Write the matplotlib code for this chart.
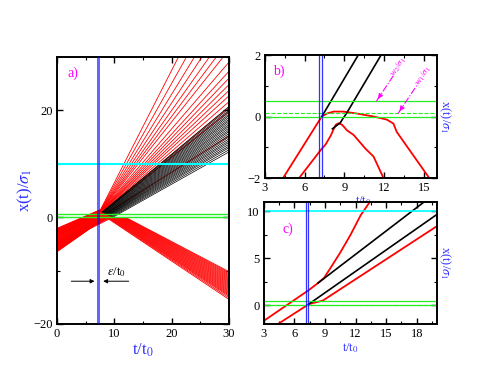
import matplotlib
matplotlib.use("Agg")
import matplotlib.pyplot as plt
import numpy as np
from matplotlib.ticker import MultipleLocator

plt.rcParams['font.family'] = ['Liberation Serif', 'DejaVu Serif']
plt.rcParams['mathtext.fontset'] = 'stix'

RED, GREEN, CYAN, BLUE, MAG = '#ff0000', '#22ee22', '#00ffff', '#0000ff', '#ff00ff'
LBLUE = '#3030ff'

# ── panel a: fast transmitted (red) trajectories ────────────────────────────
A_y0 = [-2.1, -2.18, -2.25, -2.33, -2.4, -2.48, -2.55, -2.63, -2.7, -2.78, -2.85, -2.93, -3.0, -3.08, -3.15, -3.22, -3.3]
A_kt = [7.6, 7.62, 7.65, 7.68, 7.7, 7.72, 7.75, 7.78, 7.8, 7.82, 7.85, 7.88, 7.9, 7.95, 8.0, 8.1, 8.6]
A_ky = [1.4, 1.38, 1.36, 1.34, 1.32, 1.3, 1.28, 1.26, 1.24, 1.22, 1.2, 1.18, 1.16, 1.12, 1.08, 1.0, 0.7]
A_te = [21.2, 22.6, 24.0, 25.3, 26.6, 27.8, 29.0, 30, 30, 30, 30, 30, 30, 30, 30, 30, 30]
A_ye = [30, 30, 30, 30, 30, 30, 30, 29.0, 27.3, 26.0, 24.8, 23.7, 22.7, 21.6, 20.6, 19.8, 15.2]

# ── panel a: transmitted (black) trajectories ───────────────────────────────
B_y0 = [-3.3, -3.38, -3.45, -3.52, -3.6, -3.68, -3.75, -3.82, -3.9, -3.98, -4.05, -4.12, -4.2,
        -4.28, -4.35, -4.42, -4.5, -4.58, -4.65, -4.72, -4.8, -4.88, -4.95, -5.02, -5.1, -5.2]
B_kt = [7.8, 7.85, 7.9, 7.95, 8.0, 8.1, 8.15, 8.2, 8.3, 8.35, 8.4, 8.5, 8.55,
        8.6, 8.7, 8.75, 8.8, 8.9, 8.95, 9.0, 9.1, 9.2, 9.3, 9.45, 9.6, 9.8]
B_ky = [0.9, 0.88, 0.85, 0.82, 0.8, 0.76, 0.73, 0.7, 0.66, 0.63, 0.6, 0.56, 0.53,
        0.5, 0.46, 0.43, 0.4, 0.36, 0.33, 0.3, 0.25, 0.2, 0.16, 0.1, 0.05, 0.0]
B_ye = [20.7, 20.35, 20.0, 19.65, 19.3, 19.0, 18.65, 18.3, 18.0, 17.65, 17.3, 17.0, 16.65,
        16.3, 16.0, 15.65, 15.3, 15.0, 14.65, 14.3, 14.0, 13.65, 13.3, 13.0, 12.6, 12.2]

# ── panel a: reflected (red) trajectories ───────────────────────────────────
C_y0 = [-4.6, -4.68, -4.75, -4.83, -4.9, -4.98, -5.05, -5.13, -5.2, -5.28, -5.35, -5.43, -5.5,
        -5.58, -5.65, -5.73, -5.8, -5.88, -5.95, -6.03, -6.1, -6.18, -6.25, -6.33, -6.4, -6.5]
C_kt = [8.9, 8.88, 8.85, 8.82, 8.8, 8.77, 8.75, 8.72, 8.7, 8.67, 8.65, 8.62, 8.6,
        8.57, 8.55, 8.52, 8.5, 8.47, 8.45, 8.42, 8.4, 8.37, 8.35, 8.32, 8.3, 8.27]
C_ky = [-0.05, -0.06, -0.07, -0.08, -0.08, -0.09, -0.1, -0.1, -0.11, -0.12, -0.12, -0.13, -0.14,
        -0.14, -0.15, -0.16, -0.16, -0.17, -0.18, -0.18, -0.19, -0.2, -0.2, -0.21, -0.22, -0.22]
C_t2 = [12.2, 12.07, 11.94, 11.82, 11.69, 11.56, 11.43, 11.3, 11.18, 11.05, 10.92, 10.79, 10.66,
        10.54, 10.41, 10.28, 10.15, 10.02, 9.9, 9.77, 9.64, 9.51, 9.38, 9.26, 9.13, 9.0]
C_ye = [-10.2, -10.4, -10.6, -10.8, -11.0, -11.2, -11.4, -11.6, -11.8, -12.0, -12.2, -12.4, -12.6,
        -12.8, -13.0, -13.2, -13.4, -13.6, -13.8, -14.0, -14.2, -14.4, -14.6, -14.8, -15.1, -15.4]

# ── panel b: two selected trajectories (zoom) ───────────────────────────────
b_red1_t = [4.38, 6.9, 7.3, 7.7, 8.2, 8.9, 9.9, 11.2, 12.2, 12.7, 12.95, 15.4]
b_red1_y = [-2.0, -0.27, 0.0, 0.10, 0.16, 0.16, 0.10, 0.0, -0.1, -0.23, -0.5, -2.0]
b_red2_t = [5.59, 7.2, 7.6, 8.0, 8.2, 8.35, 8.55, 8.8, 9.0, 9.2, 9.7, 10.1, 10.6, 11.2, 11.95]
b_red2_y = [-2.0, -1.1, -0.9, -0.6, -0.4, -0.27, -0.22, -0.26, -0.35, -0.45, -0.6, -0.8, -1.05, -1.3, -2.0]
b_blk1_t = [7.3, 10.05]
b_blk1_y = [0.0, 2.0]
b_blk2_t = [8.1, 8.4, 8.7, 8.9, 9.16, 11.77]
b_blk2_y = [-0.4, -0.3, -0.2, -0.06, 0.1, 2.0]

# ── panel c: the same two trajectories, larger window ───────────────────────
c_red1_t = [3.0, 7.4, 8.3, 8.9, 9.5, 10.5, 11.5, 12.5, 13.45]
c_red1_y = [-1.67, 1.6, 2.35, 2.9, 3.9, 5.62, 7.5, 9.6, 11.1]
c_blk1_t = [8.3, 18.7]
c_blk1_y = [2.35, 11.0]
c_blk2_t = [7.39, 20.0]
c_blk2_y = [0.1, 9.7]
c_red2_t = [4.4, 7.4, 7.9, 8.4, 8.8, 20.0]
c_red2_y = [-2.0, 0.1, 0.25, 0.38, 0.5, 8.45]

GATE_T = 7.3
GATE_W = 0.55
GATE_LINES = [7.1, 7.35]
WIN_HI, WIN_DASH, WIN_LO = 0.5, 0.1, 0.0
CYAN_Y = 10.0

fig = plt.figure(figsize=(4.94, 3.82), dpi=100)
ax_a = fig.add_axes([0.1154, 0.152, 0.348, 0.699])
ax_b = fig.add_axes([0.536, 0.534, 0.349, 0.322])
ax_c = fig.add_axes([0.534, 0.152, 0.351, 0.319])

for ax in (ax_a, ax_b, ax_c):
    for s in ax.spines.values():
        s.set_linewidth(1.4)
    ax.tick_params(which='both', direction='in', top=True, right=True, labelsize=9, pad=3)
    ax.tick_params(which='major', length=4, width=1)
    ax.tick_params(which='minor', length=2.5, width=0.8)

# ── panel a ────────────────────────────────────────────────────────────────
for y0, kt, ky, te, ye in zip(A_y0, A_kt, A_ky, A_te, A_ye):
    ax_a.plot([0, kt, te], [y0, ky, ye], color=RED, lw=0.6)
for y0, kt, ky, ye in zip(B_y0, B_kt, B_ky, B_ye):
    ax_a.plot([0, kt], [y0, ky], color=RED, lw=0.6)
    ax_a.plot([kt, 30], [ky, ye], color='black', lw=0.5)
for y0, kt, ky, t2, ye in zip(C_y0, C_kt, C_ky, C_t2, C_ye):
    ax_a.plot([0, kt, t2, 30], [y0, ky, ky - 0.12, ye], color=RED, lw=0.6)

ax_a.axhline(WIN_HI, color=GREEN, lw=1.0)
ax_a.axhline(WIN_LO, color=GREEN, lw=1.0)
ax_a.axhline(WIN_DASH, color=GREEN, lw=0.8, ls='--')
ax_a.axhline(CYAN_Y, color=CYAN, lw=1.5)
ax_a.axvspan(GATE_T - GATE_W / 2, GATE_T + GATE_W / 2, color=BLUE, alpha=0.6, lw=0, zorder=5)

ax_a.annotate('', xy=(GATE_T - GATE_W / 2, -12), xytext=(2.0, -12),
              arrowprops=dict(arrowstyle='-|>', color='black', lw=0.7, mutation_scale=6))
ax_a.annotate('', xy=(GATE_T + GATE_W / 2, -12), xytext=(13.0, -12),
              arrowprops=dict(arrowstyle='-|>', color='black', lw=0.7, mutation_scale=6))
ax_a.text(8.8, -11.5, r'$\varepsilon$/t$_0$', fontsize=9, ha='left', va='bottom')
ax_a.text(1.8, 26.2, 'a)', color=MAG, fontsize=10)

ax_a.set_xlim(0, 30)
ax_a.set_ylim(-20, 30)
ax_a.xaxis.set_major_locator(MultipleLocator(10))
ax_a.xaxis.set_minor_locator(MultipleLocator(5))
ax_a.yaxis.set_major_locator(MultipleLocator(20))
ax_a.yaxis.set_minor_locator(MultipleLocator(10))
ax_a.set_xlabel('t/t$_0$', color=LBLUE, fontsize=12, labelpad=1)
ax_a.set_ylabel(r'x(t)/$\sigma_1$', color=LBLUE, fontsize=12, labelpad=-1)

# ── panel b ────────────────────────────────────────────────────────────────
ax_b.plot(b_red1_t, b_red1_y, color=RED, lw=1.3)
ax_b.plot(b_red2_t, b_red2_y, color=RED, lw=1.3)
ax_b.plot(b_blk1_t, b_blk1_y, color='black', lw=1.2)
ax_b.plot(b_blk2_t, b_blk2_y, color='black', lw=1.2)
ax_b.axhline(WIN_HI, color=GREEN, lw=0.9)
ax_b.axhline(WIN_LO, color=GREEN, lw=0.9)
ax_b.axhline(WIN_DASH, color=GREEN, lw=0.8, ls='--')
for g in GATE_LINES:
    ax_b.axvline(g, color=BLUE, lw=0.9, alpha=0.8)

# dash-dot pointers to the window edges
for (h, tail, txt_xy, lab) in [((11.42, 0.5), (12.7, 1.33), (13.05, 1.6), r'w$_2$/$\sigma_1$'),
                              ((13.05, 0.1), (14.55, 1.07), (14.95, 1.33), r'w$_1$/$\sigma_1$')]:
    ax_b.plot([h[0], tail[0]], [h[1], tail[1]], color=MAG, lw=0.8, ls='-.')
    ax_b.annotate('', xy=h, xytext=(h[0] + 0.25, h[1] + 0.16),
                  arrowprops=dict(arrowstyle='-|>', color=MAG, lw=0.8, mutation_scale=7))
    ax_b.text(txt_xy[0], txt_xy[1], lab, color=MAG, fontsize=6.5, rotation=56,
              ha='center', va='center')
ax_b.text(3.6, 1.35, 'b)', color=MAG, fontsize=10)

ax_b.set_xlim(3, 16)
ax_b.set_ylim(-2, 2)
ax_b.xaxis.set_major_locator(MultipleLocator(3))
ax_b.xaxis.set_minor_locator(MultipleLocator(1.5))
ax_b.yaxis.set_major_locator(MultipleLocator(2))
ax_b.yaxis.set_minor_locator(MultipleLocator(1))
ax_b.set_xlabel('t/t$_0$', color=LBLUE, fontsize=9, labelpad=0)
ax_b.xaxis.label.set_x(0.57)
ax_b.yaxis.set_label_position('right')
ax_b.set_ylabel(r'x(t)/$\sigma_1$', color=LBLUE, fontsize=9, rotation=-90, labelpad=11)

# ── panel c ────────────────────────────────────────────────────────────────
ax_c.plot(c_red1_t, c_red1_y, color=RED, lw=1.3)
ax_c.plot(c_red2_t, c_red2_y, color=RED, lw=1.3)
ax_c.plot(c_blk1_t, c_blk1_y, color='black', lw=1.2)
ax_c.plot(c_blk2_t, c_blk2_y, color='black', lw=1.2)
ax_c.axhline(WIN_HI, color=GREEN, lw=0.9)
ax_c.axhline(WIN_LO, color=GREEN, lw=0.9)
ax_c.axhline(WIN_LO, color=GREEN, lw=0.8, ls='--')
ax_c.axhline(CYAN_Y, color=CYAN, lw=1.2)
for g in GATE_LINES:
    ax_c.axvline(g, color=BLUE, lw=0.9, alpha=0.8)
ax_c.text(4.8, 7.7, 'c)', color=MAG, fontsize=10)

ax_c.set_xlim(3, 20)
ax_c.set_ylim(-2, 11)
ax_c.xaxis.set_major_locator(MultipleLocator(3))
ax_c.xaxis.set_minor_locator(MultipleLocator(1.5))
ax_c.yaxis.set_major_locator(MultipleLocator(5))
ax_c.yaxis.set_minor_locator(MultipleLocator(2.5))
ax_c.set_xlabel('t/t$_0$', color=LBLUE, fontsize=9, labelpad=1)
ax_c.yaxis.set_label_position('right')
ax_c.set_ylabel(r'x(t)/$\sigma_1$', color=LBLUE, fontsize=9, rotation=-90, labelpad=11)

fig.savefig('out.png', dpi=100)
